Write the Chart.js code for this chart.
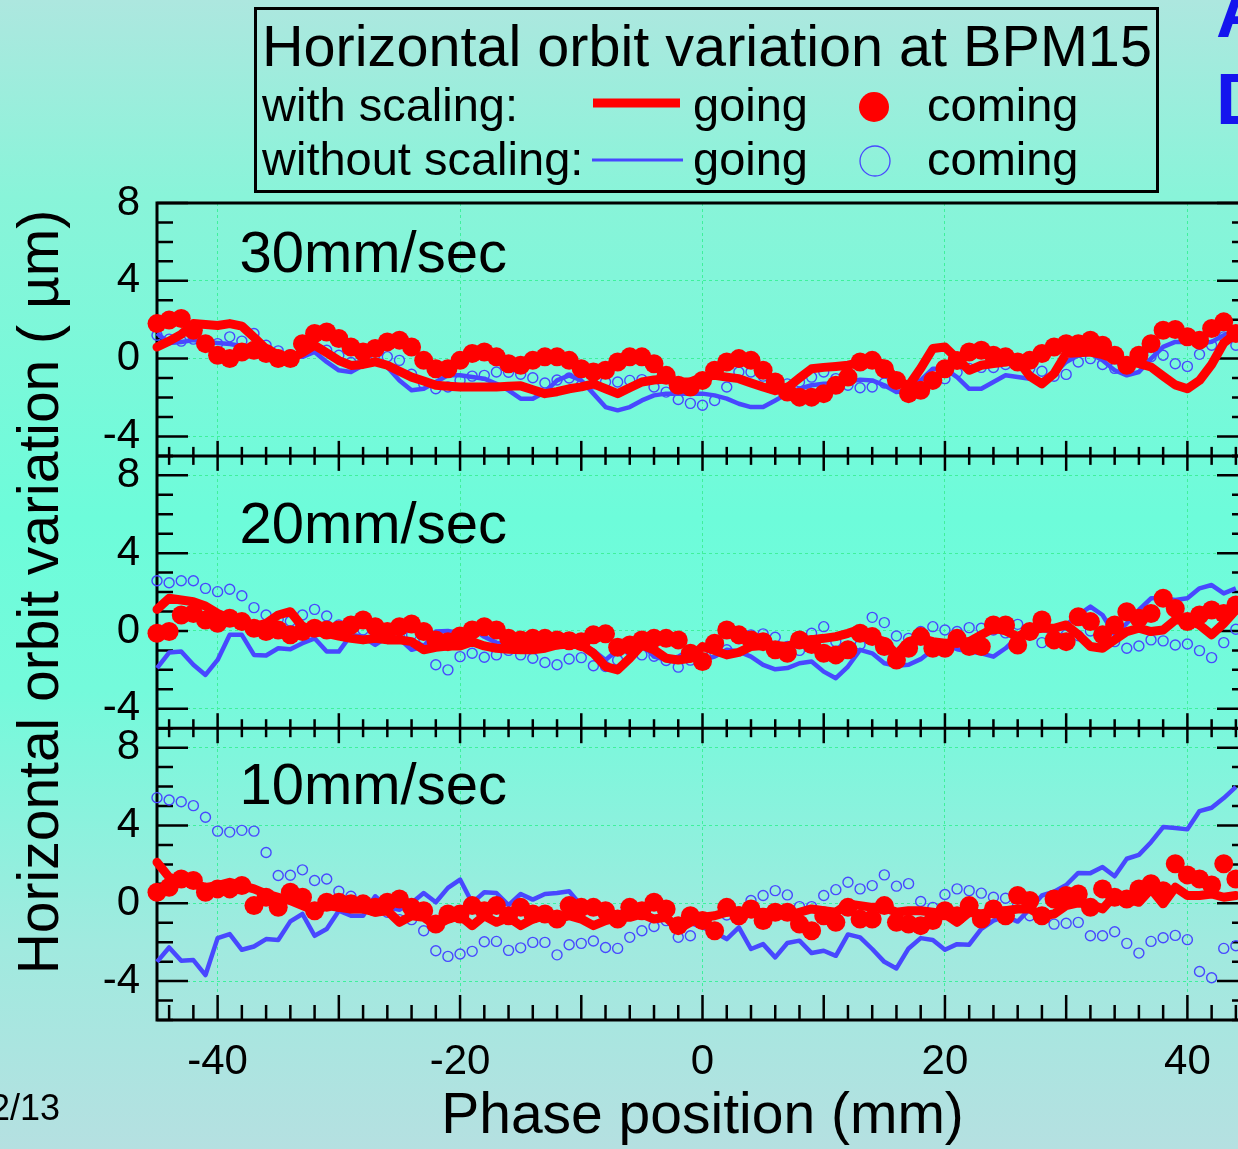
<!DOCTYPE html>
<html>
<head>
<meta charset="utf-8">
<title>Horizontal orbit variation at BPM15</title>
<script src="https://cdn.jsdelivr.net/npm/chart.js@4.4.1/dist/chart.umd.min.js"></script>
<style>
  html, body { margin: 0; padding: 0; width: 1238px; height: 1149px; overflow: hidden; }
  body {
    position: relative;
    background: linear-gradient(to bottom, #ade7df 0%, #89f4d9 17%, #6dfcda 45%, #74fadb 60%, #a0eadf 82%, #b5e0e1 100%);
    font-family: "Liberation Sans", Arial, Helvetica, sans-serif;
  }
  #wrap { position: absolute; left: 0; top: 0; width: 1290px; height: 1149px; }
  .slide-title { position: absolute; left: 1216px; top: -31px; font: bold 72px/87px "Liberation Sans", Arial, sans-serif; color: #1414ee; }
  .page-no { position: absolute; left: -10px; top: 1089px; font: 36px/38px "Liberation Sans", Arial, sans-serif; color: #000; }
</style>
</head>
<body>
<div id="wrap"><canvas id="orbit" width="1290" height="1149"></canvas></div>
<div class="slide-title">A<br>D</div>
<div class="page-no">2/13</div>
<script>
// phase position of every reading (mm)
const positionMm = [
  -45, -44, -43, -42, -41, -40, -39, -38, -37, -36, -35, -34, -33, -32, -31,
  -30, -29, -28, -27, -26, -25, -24, -23, -22, -21, -20, -19, -18, -17, -16,
  -15, -14, -13, -12, -11, -10, -9, -8, -7, -6, -5, -4, -3, -2, -1,
  0, 1, 2, 3, 4, 5, 6, 7, 8, 9, 10, 11, 12, 13, 14,
  15, 16, 17, 18, 19, 20, 21, 22, 23, 24, 25, 26, 27, 28, 29,
  30, 31, 32, 33, 34, 35, 36, 37, 38, 39, 40, 41, 42, 43, 44
];

// 30 mm/sec
const goScaled30 = [
  0.6, 0.9, 1.25, 1.8, 1.75, 1.7, 1.8, 1.67, 1.1, 0.5, 0.2, 0.0, 0.3, 0.69, 0.3,
  -0.1, -0.35, -0.3, -0.17, -0.34, -0.65, -0.95, -1.15, -1.37, -1.42, -1.46, -1.46, -1.46, -1.46, -1.42,
  -1.4, -1.6, -1.8, -1.7, -1.55, -1.45, -1.3, -1.55, -1.8, -1.5, -1.2, -1.1, -1.05, -1.2, -1.2,
  -0.95, -0.86, -0.95, -1.03, -1.25, -1.46, -1.65, -1.5, -1.0, -0.52, -0.45, -0.4, -0.34, -0.2, -0.09,
  -0.3, -1.1, -1.4, -0.5, 0.52, 0.6, 0.0, -0.6, -0.34, -0.25, -0.17, -0.09, -0.9, -1.3, -0.77,
  0.26, 0.3, 0.34, 0.2, 0.0, -0.15, -0.26, -0.43, -0.9, -1.35, -1.55, -1.12, -0.3, 0.8, 1.29
];
const comeScaled30 = [
  1.8, 1.98, 2.06, 1.46, 0.77, 0.17, 0.0, 0.34, 0.43, 0.26, 0.0, 0.0, 0.77, 1.29, 1.37,
  1.03, 0.6, 0.34, 0.52, 0.86, 0.95, 0.6, -0.09, -0.52, -0.52, -0.09, 0.26, 0.34, 0.09, -0.26,
  -0.34, -0.09, 0.09, 0.09, -0.09, -0.52, -0.69, -0.6, -0.17, 0.09, 0.09, -0.26, -0.86, -1.37, -1.46,
  -1.12, -0.6, -0.17, 0.0, -0.09, -0.6, -1.2, -1.72, -1.98, -1.98, -1.8, -1.37, -0.95, -0.17, -0.09,
  -0.52, -1.12, -1.8, -1.63, -1.12, -0.52, -0.1, 0.34, 0.43, 0.17, 0.09, -0.17, -0.09, 0.26, 0.6,
  0.77, 0.77, 0.95, 0.69, 0.17, -0.34, 0.17, 0.77, 1.46, 1.5, 1.12, 0.95, 1.55, 1.89, 1.29
];
const goRaw30 = [
  1.3, 0.8, 0.85, 0.95, 0.85, 0.8, 0.75, 0.65, 0.55, 0.45, 0.3, 0.15, 0.09, 0.34, -0.17,
  -0.6, -0.69, -0.34, -0.09, -0.43, -1.12, -1.63, -1.55, -1.2, -0.86, -0.86, -0.95, -1.03, -1.29, -1.63,
  -2.06, -2.06, -1.72, -1.12, -0.86, -1.12, -1.8, -2.49, -2.66, -2.49, -2.15, -1.89, -1.8, -1.8, -1.8,
  -1.8, -1.89, -2.06, -2.32, -2.49, -2.49, -2.15, -1.8, -1.55, -1.37, -1.29, -1.29, -1.2, -1.08, -1.12,
  -1.37, -1.72, -1.63, -1.12, -0.52, -0.52, -0.95, -1.55, -1.55, -1.2, -0.86, -0.95, -1.03, -1.12, -0.77,
  -0.17, 0.17, 0.26, -0.09, -0.6, -0.86, -0.69, 0.0, 0.6, 0.86, 0.86, 0.77, 0.86, 1.2, 1.46
];
const comeRaw30 = [
  1.2, 1.0, 0.9, 1.0, 0.9, 0.77, 1.12, 0.9, 1.29, 0.69, 0.4, 0.2, 0.3, 0.6, 0.43,
  0.17, -0.2, -0.1, 0.2, 0.1, -0.09, -0.8, -1.29, -1.55, -1.46, -1.12, -0.9, -0.86, -0.69, -0.7,
  -0.8, -0.98, -1.25, -1.1, -1.0, -1.37, -1.3, -1.2, -1.2, -1.12, -1.08, -1.46, -1.72, -2.1, -2.3,
  -2.4, -2.15, -1.46, -0.69, -0.69, -0.9, -1.1, -1.3, -1.2, -0.95, -0.69, -1.03, -1.37, -1.5, -1.46,
  -1.25, -1.2, -1.4, -1.3, -1.1, -1.03, -0.7, -0.5, -0.45, -0.46, -0.3, -0.3, -0.5, -0.65, -0.91,
  -0.81, -0.17, 0.0, -0.3, -0.5, -0.5, -0.1, 0.1, 0.17, -0.26, -0.4, 0.22, 0.69, 1.12, 0.69
];

// 20 mm/sec
const goScaled20 = [
  1.11, 1.68, 1.59, 1.5, 1.28, 0.9, 0.65, 0.48, 0.22, 0.39, 0.82, 0.99, 0.22, -0.03, -0.12,
  -0.26, -0.38, -0.46, -0.38, -0.46, -0.46, -0.55, -0.97, -0.84, -0.77, -0.77, -0.55, -0.77, -0.89, -0.94,
  -0.97, -0.97, -0.89, -0.72, -0.67, -0.72, -1.15, -1.83, -2.0, -1.4, -0.72, -0.97, -1.4, -1.49, -1.4,
  -0.8, -1.0, -1.23, -1.1, -0.8, -0.75, -0.75, -0.8, -0.55, -0.45, -0.38, -0.29, -0.12, 0.09, -0.35,
  -0.55, -1.2, -0.55, -0.38, -0.55, -0.63, -0.63, -0.55, -0.2, 0.14, 0.0, -0.29, 0.05, 0.14, 0.14,
  0.31, -0.2, -0.8, -0.89, -0.46, -0.03, 0.14, -0.03, 0.05, 0.56, 0.56, 0.31, -0.2, 0.39, 1.08
];
const comeScaled20 = [
  -0.12, -0.03, 0.82, 0.9, 0.56, 0.39, 0.65, 0.48, 0.14, -0.03, 0.05, -0.2, -0.03, 0.14, 0.05,
  0.05, 0.31, 0.56, 0.22, -0.03, 0.22, 0.36, -0.03, -0.46, -0.55, -0.26, 0.05, 0.22, 0.05, -0.38,
  -0.46, -0.38, -0.38, -0.46, -0.5, -0.55, -0.2, -0.15, -0.84, -0.72, -0.46, -0.38, -0.38, -0.46, -1.15,
  -1.57, -0.63, 0.05, -0.2, -0.46, -0.55, -0.97, -1.15, -0.46, -0.7, -1.15, -1.23, -0.97, -0.12, -0.29,
  -0.8, -1.49, -0.89, -0.29, -0.89, -0.89, -0.38, -0.8, -0.8, 0.31, 0.31, -0.72, -0.03, 0.56, -0.46,
  -0.55, 0.73, 0.48, -0.2, 0.31, 0.99, 0.65, 0.9, 1.68, 1.16, 0.48, 0.82, 1.08, 0.9, 1.33
];
const goRaw20 = [
  -1.91, -1.11, -1.06, -1.74, -2.26, -1.49, -0.2, -0.2, -1.23, -1.26, -0.89, -0.94, -0.63, -0.38, -1.06,
  -1.06, -0.2, -0.3, -0.72, -0.3, -0.4, -0.97, -0.8, -0.03, 0.0, -0.12, 0.14, -0.3, -0.6, -0.75,
  -0.8, -0.8, -0.75, -0.7, -0.7, -0.75, -1.0, -1.49, -0.97, -0.38, -0.63, -1.32, -1.49, -1.32, -0.97,
  -1.49, -1.32, -0.97, -1.06, -1.32, -1.74, -1.97, -1.91, -1.66, -1.57, -2.09, -2.43, -1.83, -0.97, -1.15,
  -1.66, -1.79, -1.74, -1.45, -0.97, -0.72, -0.94, -1.06, -1.15, -1.32, -0.89, -0.29, -0.12, 0.05, -0.03,
  0.31, 0.82, 1.25, 0.82, -0.2, 0.39, 1.08, 1.68, 1.68, 1.59, 1.68, 2.19, 2.36, 1.93, 2.19
];
const comeRaw20 = [
  2.58, 2.48, 2.58, 2.58, 2.19, 2.02, 2.14, 1.81, 1.2, 0.82, 0.6, 0.5, 0.82, 1.11, 0.77,
  0.31, 0.2, 0.05, -0.1, -0.2, -0.3, -0.2, -0.4, -1.74, -2.0, -1.32, -1.15, -1.35, -1.23, -1.0,
  -1.23, -1.4, -1.62, -1.74, -1.44, -1.37, -1.79, -1.83, -1.5, -1.0, -1.23, -1.3, -1.52, -1.86, -1.5,
  -1.2, -1.1, -0.97, -0.4, -0.2, -0.15, -0.32, -0.8, -1.0, -0.12, 0.22, -0.55, -0.8, -0.7, 0.7,
  0.43, -0.26, -0.38, -0.03, 0.22, 0.05, -0.03, 0.17, 0.14, 0.05, -0.1, 0.34, -0.2, -0.6, -0.4,
  -0.2, -0.25, 0.0, -0.35, -0.55, -0.89, -0.77, -0.46, -0.51, -0.72, -0.67, -1.01, -1.37, -0.6, 0.09
];

// 10 mm/sec
const goScaled10 = [
  2.11, 1.34, 1.17, 1.0, 0.82, 0.91, 1.08, 0.91, 0.74, 0.48, 0.31, 0.14, -0.12, -0.38, -0.12,
  -0.21, -0.29, -0.29, -0.46, -0.38, -0.98, -0.64, -0.72, -1.15, -0.81, -0.64, -1.15, -0.64, -0.98, -0.72,
  -1.15, -0.81, -0.64, -0.81, -0.64, -0.81, -1.15, -0.89, -0.72, -0.72, -0.55, -0.81, -0.72, -1.32, -0.98,
  -0.72, -0.64, -0.46, -0.38, -0.55, -0.46, -0.55, -0.64, -0.46, -0.29, -0.38, -0.46, -0.03, -0.12, -0.21,
  -0.21, -0.46, -0.38, -0.38, -0.46, -0.55, -0.98, -0.46, -0.55, -0.38, -0.38, -0.29, -0.29, -0.64, -0.55,
  -0.12, 0.02, -0.03, -0.29, 0.4, 0.22, 0.05, 0.74, -0.03, 0.82, 0.4, 0.4, 0.48, 0.31, 0.4
];
const comeScaled10 = [
  0.57, 0.82, 1.25, 1.17, 0.57, 0.74, 0.74, 0.91, -0.12, 0.31, -0.21, 0.57, 0.31, -0.38, 0.05,
  0.05, -0.03, -0.03, -0.21, 0.05, 0.22, -0.21, -0.38, -1.07, -0.55, -0.55, -0.12, -0.38, -0.12, -0.64,
  -0.21, -0.55, -0.55, -0.81, -0.12, -0.21, -0.21, -0.38, -0.81, -0.21, -0.38, 0.05, -0.29, -1.15, -0.64,
  -0.89, -1.41, -0.21, -0.64, -0.29, -0.89, -0.46, -0.46, -1.07, -1.41, -0.64, -0.98, -0.21, -0.81, -0.81,
  -0.12, -0.98, -1.07, -1.15, -0.89, -0.38, -0.64, -0.12, -0.81, -0.29, -0.64, 0.4, 0.14, -0.64, 0.22,
  0.4, 0.48, -0.21, 0.74, 0.31, 0.22, 0.74, 1.0, 0.65, 2.03, 1.46, 1.25, 0.94, 2.03, 1.25
];
const goRaw10 = [
  -3.01, -2.27, -2.96, -2.92, -3.69, -1.79, -1.58, -2.39, -2.22, -1.84, -1.89, -0.93, -0.55, -1.67, -1.32,
  -0.38, -0.64, -0.64, 0.36, -0.21, -0.33, 0.02, 0.53, 0.05, 0.79, 1.22, 0.02, 0.57, 0.53, -0.09,
  0.48, 0.19, 0.48, 0.53, 0.62, -0.12, -0.26, -0.43, -0.5, -0.29, -0.07, -0.89, -0.55, -1.32, -1.01,
  -1.24, -1.49, -1.84, -1.24, -2.35, -2.1, -2.78, -2.04, -1.92, -2.56, -2.44, -2.7, -1.6, -1.75, -2.35,
  -3.01, -3.35, -2.32, -1.79, -1.89, -2.39, -2.1, -2.13, -1.32, -0.89, -0.67, -0.94, -0.29, 0.4, 0.6,
  0.94, 1.56, 1.55, 1.86, 1.39, 2.29, 2.49, 3.14, 3.92, 3.87, 3.8, 4.74, 4.91, 5.41, 5.98
];
const comeRaw10 = [
  5.43, 5.31, 5.22, 5.02, 4.42, 3.71, 3.66, 3.75, 3.71, 2.61, 1.43, 1.44, 1.72, 1.17, 1.25,
  0.62, 0.36, 0.05, 0.05, -0.46, -0.84, -0.84, -1.41, -2.44, -2.73, -2.61, -2.47, -1.98, -1.96, -2.42,
  -2.29, -2.01, -2.01, -2.65, -2.13, -2.06, -1.94, -2.27, -2.32, -1.75, -1.41, -1.19, -0.89, -1.75, -1.67,
  -0.98, -1.29, -0.6, -0.6, 0.14, 0.4, 0.65, 0.43, -0.17, -0.17, 0.4, 0.7, 1.08, 0.74, 0.91,
  1.46, 0.88, 1.01, 0.09, -0.21, 0.45, 0.74, 0.65, 0.52, 0.31, 0.26, -0.09, -0.64, -0.67, -1.07,
  -1.03, -0.98, -1.67, -1.67, -1.46, -2.06, -2.56, -1.96, -1.77, -1.65, -1.87, -3.51, -3.83, -2.32, -2.18
];

// axes
const xLabelTicks = [-40, -20, 0, 20, 40];
const yLabelTicks = [-4, 0, 4, 8];
const panelNames = ['30mm/sec', '20mm/sec', '10mm/sec'];
const panelRanges = [[-5, 8], [-5, 9], [-6, 9]];

const FONT = '"Liberation Sans", Arial, Helvetica, sans-serif';
const RED = '#ff0000';
const BLUE = '#4848ff';
const GRID = '#3ff09c';

Chart.defaults.font.family = FONT;
Chart.defaults.color = '#000';

const toPoints = vals => positionMm.map((x, i) => ({ x, y: vals[i] }));

const panels = [
  { id: 'y1', go: goScaled30, come: comeScaled30, goRaw: goRaw30, comeRaw: comeRaw30 },
  { id: 'y2', go: goScaled20, come: comeScaled20, goRaw: goRaw20, comeRaw: comeRaw20 },
  { id: 'y3', go: goScaled10, come: comeScaled10, goRaw: goRaw10, comeRaw: comeRaw10 }
];

const datasets = [];
panels.forEach(p => {
  datasets.push({
    label: 'coming (with scaling)', data: toPoints(p.come), yAxisID: p.id,
    showLine: false, pointRadius: 9.5, pointBorderWidth: 0,
    pointBackgroundColor: RED, pointBorderColor: RED, clip: false
  });
  datasets.push({
    label: 'going (with scaling)', data: toPoints(p.go), yAxisID: p.id,
    borderColor: RED, borderWidth: 9, pointRadius: 0, tension: 0,
    borderJoinStyle: 'round', borderCapStyle: 'round', fill: false, clip: false
  });
  datasets.push({
    label: 'going (without scaling)', data: toPoints(p.goRaw), yAxisID: p.id,
    borderColor: BLUE, borderWidth: 4.5, pointRadius: 0, tension: 0,
    borderJoinStyle: 'round', fill: false, clip: false
  });
  datasets.push({
    label: 'coming (without scaling)', data: toPoints(p.comeRaw), yAxisID: p.id,
    showLine: false, pointRadius: 5, pointBorderWidth: 1.4,
    pointBackgroundColor: 'rgba(0,0,0,0)', pointBorderColor: BLUE, clip: false
  });
});

function yAxis(range, weight, stackWeight, extra) {
  return Object.assign({
    type: 'linear', position: 'left', stack: 'panels', weight, stackWeight,
    min: range[0], max: range[1],
    afterBuildTicks: s => { s.ticks = yLabelTicks.map(v => ({ value: v })); },
    afterFit: s => { s.width = 157; },
    ticks: { font: { size: 42 }, padding: 17, color: '#000', autoSkip: false },
    grid: { color: GRID, lineWidth: 1, drawTicks: false },
    border: { display: false, dash: [3, 3] }
  }, extra);
}

// frame, panel separators and tick marks (ticks point into the plot)
const panelFrame = {
  id: 'panelFrame',
  beforeDatasetsDraw(chart) {
    const { ctx, chartArea: a, scales } = chart;
    const sx = scales.x;
    ctx.save();
    ctx.strokeStyle = '#000';
    ctx.lineCap = 'butt';

    ctx.lineWidth = 2.5;
    panels.forEach(p => {
      const s = scales[p.id];
      for (let v = Math.ceil(s.min); v <= s.max; v++) {
        const y = s.getPixelForValue(v);
        const len = v % 4 === 0 ? 31 : 16;
        ctx.beginPath();
        ctx.moveTo(a.left, y); ctx.lineTo(a.left + len, y);
        ctx.moveTo(a.right, y); ctx.lineTo(a.right - len, y);
        ctx.stroke();
      }
    });

    panels.forEach((p, i) => {
      const s = scales[p.id];
      const yb = s.bottom;
      const last = i === panels.length - 1;
      for (let v = -44; v <= 44; v += 2) {
        const x = sx.getPixelForValue(v);
        const major = v % 10 === 0;
        ctx.beginPath();
        if (last) {
          ctx.moveTo(x, yb); ctx.lineTo(x, yb - (major ? 25 : 15));
        } else {
          const h = major ? 15 : 9;
          ctx.moveTo(x, yb - h); ctx.lineTo(x, yb + h);
        }
        ctx.stroke();
      }
      if (!last) {
        ctx.lineWidth = 3;
        ctx.beginPath();
        ctx.moveTo(a.left, yb); ctx.lineTo(a.right, yb);
        ctx.stroke();
        ctx.lineWidth = 2.5;
      }
    });

    ctx.lineWidth = 3;
    ctx.strokeRect(a.left, a.top, a.right - a.left, a.bottom - a.top);
    ctx.restore();
  },
  afterDraw(chart) {
    const { ctx, scales } = chart;
    const sx = scales.x;
    ctx.save();
    ctx.fillStyle = '#000';
    ctx.textBaseline = 'alphabetic';
    ctx.textAlign = 'left';

    // speed labels inside each panel
    const labelY = [4.43, 4.52, 5.1];
    ctx.font = '58px ' + FONT;
    panels.forEach((p, i) => {
      ctx.fillText(panelNames[i], sx.getPixelForValue(-38.2), scales[p.id].getPixelForValue(labelY[i]));
    });

    // legend box
    ctx.lineWidth = 3;
    ctx.strokeStyle = '#000';
    ctx.strokeRect(255.5, 8.5, 902, 183);
    ctx.font = '57.6px ' + FONT;
    ctx.fillText('Horizontal orbit variation at BPM15', 262, 66);
    ctx.font = '47px ' + FONT;
    ctx.fillText('with scaling:', 262, 121);
    ctx.fillText('without scaling:', 262, 175);
    ctx.fillText('going', 693, 121);
    ctx.fillText('going', 693, 175);
    ctx.fillText('coming', 927, 121);
    ctx.fillText('coming', 927, 175);

    ctx.lineCap = 'butt';
    ctx.strokeStyle = RED;
    ctx.lineWidth = 9;
    ctx.beginPath(); ctx.moveTo(593, 103); ctx.lineTo(680, 103); ctx.stroke();
    ctx.strokeStyle = BLUE;
    ctx.lineWidth = 3;
    ctx.beginPath(); ctx.moveTo(592, 160); ctx.lineTo(683, 160); ctx.stroke();

    ctx.fillStyle = RED;
    ctx.beginPath(); ctx.arc(874, 107, 15, 0, Math.PI * 2); ctx.fill();
    ctx.strokeStyle = BLUE;
    ctx.lineWidth = 1.3;
    ctx.beginPath(); ctx.arc(875, 161, 15, 0, Math.PI * 2); ctx.stroke();
    ctx.restore();
  }
};

new Chart(document.getElementById('orbit'), {
  type: 'line',
  data: { datasets },
  options: {
    responsive: false,
    animation: false,
    events: [],
    layout: { padding: { top: 203, right: 42, bottom: 0, left: 0 } },
    plugins: { legend: { display: false }, tooltip: { enabled: false } },
    scales: {
      x: {
        type: 'linear', position: 'bottom', min: -45, max: 45,
        afterBuildTicks: s => { s.ticks = xLabelTicks.map(v => ({ value: v })); },
        afterFit: s => { s.height = 129; },
        ticks: { font: { size: 42 }, padding: 17, color: '#000', maxRotation: 0, autoSkip: false },
        grid: { color: GRID, lineWidth: 1, drawTicks: false },
        border: { display: false, dash: [3, 3] },
        title: {
          display: true, text: 'Phase position (mm)', color: '#000',
          font: { size: 57, lineHeight: 1.1 }, padding: 0
        }
      },
      y3: yAxis(panelRanges[2], 1, 15),
      y2: yAxis(panelRanges[1], 2, 14, {
        title: {
          display: true, text: 'Horizontal orbit variation ( µm)', color: '#000',
          font: { size: 57 }, padding: { top: 8, bottom: 0 }
        }
      }),
      y1: yAxis(panelRanges[0], 3, 13)
    }
  },
  plugins: [panelFrame]
});
</script>
</body>
</html>
